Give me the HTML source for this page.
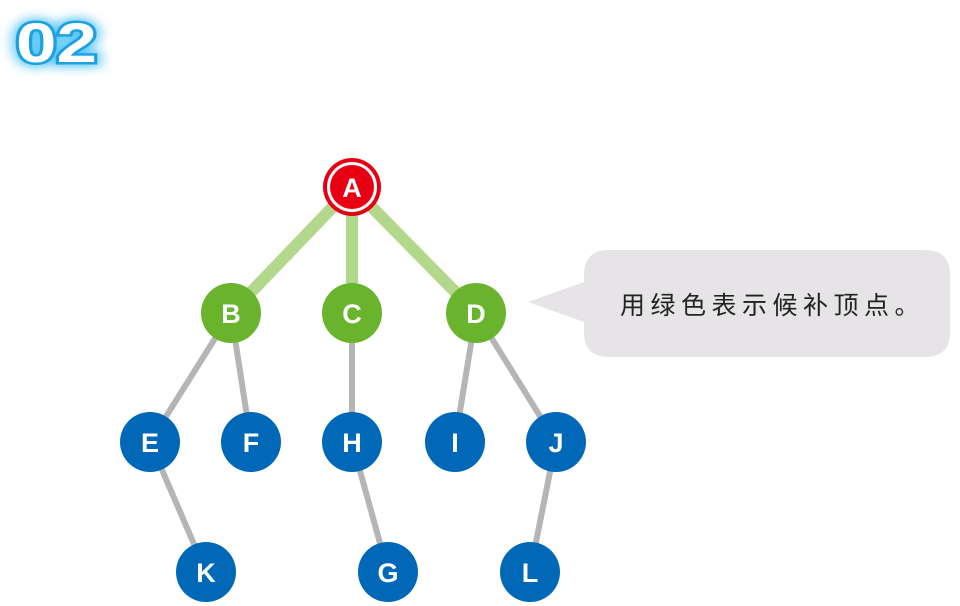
<!DOCTYPE html>
<html><head><meta charset="utf-8"><style>
body{margin:0;background:#fff;width:960px;height:606px;overflow:hidden}
svg{display:block}
</style></head><body>
<svg width="960" height="606" viewBox="0 0 960 606" xmlns="http://www.w3.org/2000/svg">
<defs>
<filter id="glow" x="-50%" y="-50%" width="200%" height="200%">
<feGaussianBlur stdDeviation="5"/>
</filter>
</defs>
<g font-family="Liberation Sans, sans-serif" font-weight="bold" font-size="56" transform="translate(16,62) scale(1.3,1)">
<text x="0" y="0" fill="#5bc8f5" stroke="#5bc8f5" stroke-width="10" filter="url(#glow)">02</text>
<text x="0" y="0" fill="#fff" stroke="#1ba1e2" stroke-width="5" paint-order="stroke">02</text>
</g>
<g stroke="#b3d88b" stroke-width="12" stroke-linecap="butt">
<line x1="352" y1="187" x2="231" y2="313"/>
<line x1="352" y1="187" x2="352" y2="313"/>
<line x1="352" y1="187" x2="476" y2="313"/>
</g>
<g stroke="#b5b5b5" stroke-width="6">
<line x1="231" y1="313" x2="150" y2="442"/>
<line x1="231" y1="313" x2="251" y2="442"/>
<line x1="352" y1="313" x2="352" y2="442"/>
<line x1="476" y1="313" x2="455" y2="442"/>
<line x1="476" y1="313" x2="556" y2="442"/>
<line x1="150" y1="442" x2="206" y2="572"/>
<line x1="352" y1="442" x2="388" y2="572"/>
<line x1="556" y1="442" x2="530" y2="572"/>
</g>
<circle cx="352" cy="187" r="29" fill="#e60012"/>
<circle cx="352" cy="187" r="25" fill="#fff"/>
<circle cx="352" cy="187" r="22" fill="#e60012"/>
<g fill="#6ab42d">
<circle cx="231" cy="313" r="30"/><circle cx="352" cy="313" r="30"/><circle cx="476" cy="313" r="30"/>
</g>
<g fill="#0068b7">
<circle cx="150" cy="442" r="30"/><circle cx="251" cy="442" r="30"/><circle cx="352" cy="442" r="30"/>
<circle cx="455" cy="442" r="30"/><circle cx="556" cy="442" r="30"/>
<circle cx="206" cy="572" r="30"/><circle cx="388" cy="572" r="30"/><circle cx="530" cy="572" r="30"/>
</g>
<g font-family="Liberation Sans, sans-serif" font-weight="bold" font-size="27" fill="#fff" text-anchor="middle">
<text x="352" y="197">A</text>
<text x="231" y="323">B</text><text x="352" y="323">C</text><text x="476" y="323">D</text>
<text x="150" y="452">E</text><text x="251" y="452">F</text><text x="352" y="452">H</text>
<text x="455" y="452">I</text><text x="556" y="452">J</text>
<text x="206" y="582">K</text><text x="388" y="582">G</text><text x="530" y="582">L</text>
</g>
<path d="M609 250 H925 Q950 250 950 275 V332 Q950 357 925 357 H609 Q584 357 584 332 V322 L528 302 L584 282 V275 Q584 250 609 250 Z" fill="#e6e4e6"/>
<text x="620" y="314" font-family="Liberation Sans, Noto Sans CJK SC, sans-serif" font-size="25" letter-spacing="5.5" fill="#222">用绿色表示候补顶点。</text>
</svg>
</body></html>
